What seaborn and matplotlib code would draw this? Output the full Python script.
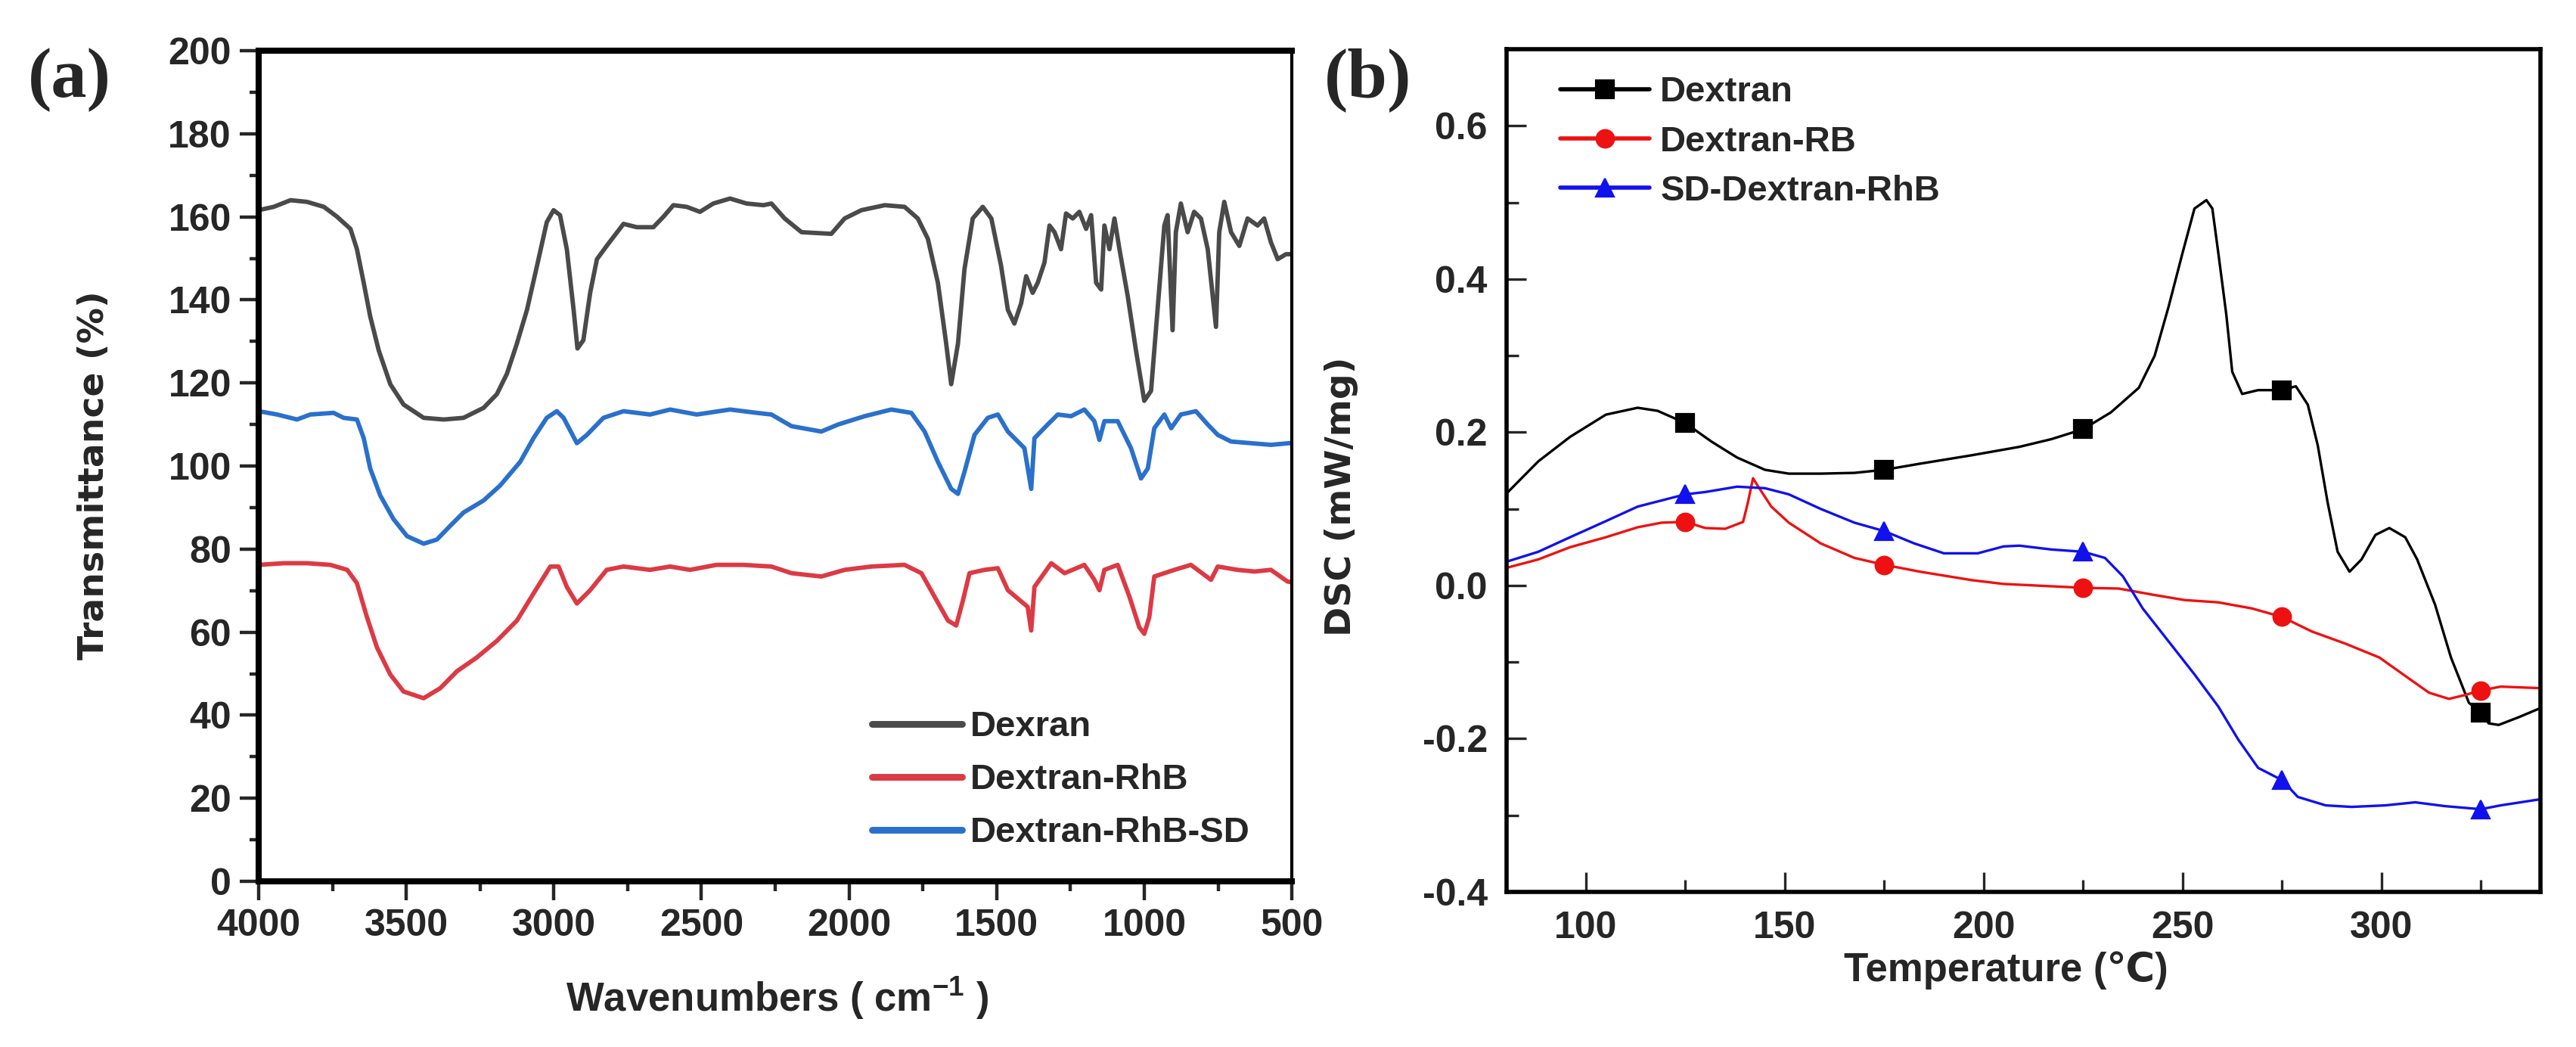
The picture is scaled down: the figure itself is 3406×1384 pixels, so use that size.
import matplotlib
matplotlib.use("Agg")
import matplotlib.pyplot as plt
import seaborn as sns
import pandas as pd
from matplotlib.ticker import MultipleLocator

# ---- panel (a): FTIR spectra ----
dexran_wn = [4000, 3949, 3892, 3836, 3779, 3734, 3689, 3667, 3644, 3622,
             3593, 3554, 3509, 3441, 3373, 3306, 3238, 3193, 3159, 3125,
             3091, 3057, 3024, 3001, 2979, 2956, 2933, 2920, 2900, 2877,
             2854, 2821, 2764, 2719, 2663, 2629, 2595, 2550, 2505, 2460,
             2403, 2347, 2290, 2263, 2218, 2161, 2060, 2015, 1958, 1879,
             1812, 1767, 1733, 1699, 1671, 1654, 1631, 1609, 1581, 1547,
             1518, 1485, 1462, 1440, 1417, 1400, 1378, 1361, 1338, 1321,
             1304, 1282, 1265, 1242, 1220, 1197, 1180, 1163, 1146, 1135,
             1118, 1101, 1084, 1056, 1028, 1000, 977, 955, 932, 921,
             904, 893, 876, 853, 831, 808, 785, 757, 746, 729,
             706, 678, 650, 616, 594, 571, 548, 520, 500]
dexran_t = [161.6, 162.4, 164.0, 163.6, 162.4, 160.0, 157.1, 152.2, 144.1, 136.0,
            127.8, 119.7, 114.8, 111.6, 111.2, 111.6, 114.0, 117.3, 122.2, 129.5,
            137.6, 148.2, 158.7, 161.6, 160.4, 152.2, 137.6, 128.3, 130.3, 141.7,
            149.8, 153.0, 158.3, 157.5, 157.5, 160.0, 162.8, 162.4, 161.2, 163.2,
            164.4, 163.2, 162.8, 163.2, 159.6, 156.3, 155.9, 159.6, 161.6, 162.8,
            162.4, 159.6, 154.7, 144.1, 129.5, 119.7, 129.5, 147.4, 159.6, 162.4,
            159.6, 148.2, 137.6, 134.3, 139.2, 145.7, 141.7, 144.1, 149.0, 157.9,
            156.3, 152.2, 160.8, 159.6, 161.2, 157.1, 160.4, 144.1, 142.5, 157.9,
            152.2, 159.6, 152.2, 140.9, 127.8, 115.7, 118.1, 137.6, 157.9, 160.4,
            132.7, 156.3, 163.2, 156.3, 161.2, 159.6, 152.2, 133.5, 156.3, 163.6,
            156.3, 153.0, 159.6, 157.9, 159.6, 153.9, 149.8, 151.0, 151.0]

rhb_wn = [4000, 3915, 3836, 3757, 3700, 3667, 3633, 3599, 3554, 3509,
          3441, 3385, 3328, 3261, 3193, 3125, 3069, 3012, 2984, 2956,
          2922, 2877, 2821, 2764, 2674, 2606, 2539, 2449, 2358, 2263,
          2195, 2094, 2015, 1925, 1812, 1755, 1710, 1665, 1637, 1614,
          1592, 1541, 1496, 1462, 1395, 1383, 1372, 1315, 1270, 1203,
          1169, 1152, 1135, 1090, 1050, 1017, 1000, 983, 966, 932,
          898, 842, 774, 751, 684, 627, 571, 515, 500]
rhb_t = [76.2, 76.6, 76.6, 76.2, 75.0, 71.8, 63.6, 56.3, 49.8, 45.7,
         44.1, 46.5, 50.6, 53.9, 57.9, 62.8, 69.3, 75.8, 75.8, 70.9,
         66.9, 70.1, 75.0, 75.8, 75.0, 75.8, 75.0, 76.2, 76.2, 75.8,
         74.2, 73.4, 75.0, 75.8, 76.2, 74.2, 68.5, 62.8, 61.6, 67.7,
         74.2, 75.0, 75.4, 70.1, 66.1, 60.4, 70.9, 76.6, 74.2, 76.2,
         72.6, 70.1, 75.0, 76.2, 68.5, 61.2, 59.6, 63.6, 73.4, 74.2,
         75.0, 76.2, 72.6, 75.8, 75.0, 74.6, 75.0, 72.2, 72.0]

sd_wn = [4000, 3937, 3870, 3825, 3746, 3712, 3667, 3644, 3622, 3588,
         3543, 3497, 3441, 3396, 3351, 3306, 3238, 3182, 3114, 3069,
         3024, 2990, 2967, 2922, 2888, 2832, 2764, 2674, 2606, 2516,
         2403, 2313, 2263, 2195, 2094, 2037, 1947, 1857, 1789, 1744,
         1699, 1654, 1631, 1609, 1575, 1530, 1496, 1462, 1406, 1383,
         1372, 1327, 1293, 1248, 1203, 1169, 1152, 1135, 1090, 1045,
         1011, 988, 966, 932, 909, 876, 825, 785, 751, 706,
         639, 571, 509, 500]
sd_t = [113.2, 112.4, 111.2, 112.4, 112.8, 111.6, 111.2, 106.7, 99.4, 92.9,
        87.2, 83.1, 81.3, 82.3, 85.6, 88.8, 91.7, 95.3, 101.0, 106.7,
        111.6, 113.2, 111.6, 105.5, 107.5, 111.6, 113.2, 112.4, 113.6, 112.4,
        113.6, 112.8, 112.4, 109.6, 108.3, 110.0, 112.0, 113.6, 112.8, 108.3,
        101.0, 94.5, 93.3, 98.6, 107.5, 111.6, 112.4, 108.3, 104.3, 94.5,
        106.7, 110.0, 112.4, 112.0, 113.6, 110.8, 106.3, 110.8, 110.8, 104.3,
        97.0, 99.4, 109.1, 112.4, 109.1, 112.4, 113.2, 110.0, 107.5, 105.9,
        105.5, 105.1, 105.5, 105.5]

# ---- panel (b): DSC curves ----
temp_dextran = [80, 88, 96, 105, 113, 118, 125, 131.5, 138, 145,
                151, 159, 167.5, 175, 184, 197, 209, 217, 225, 232,
                239, 243, 246.5, 250, 253, 256, 257.5, 259, 261, 262.5,
                265, 269, 275, 278.5, 281.5, 284, 286.5, 289, 292, 295,
                298.5, 302, 306, 309, 313.5, 317.5, 322, 325, 327, 329.5,
                334.5, 340]
dsc_dextran = [0.120, 0.162, 0.194, 0.223, 0.232, 0.228, 0.212, 0.188, 0.167, 0.151,
               0.146, 0.146, 0.147, 0.151, 0.159, 0.170, 0.181, 0.191, 0.204, 0.226,
               0.258, 0.300, 0.364, 0.434, 0.492, 0.503, 0.492, 0.434, 0.354, 0.279,
               0.250, 0.255, 0.255, 0.260, 0.236, 0.183, 0.108, 0.044, 0.018, 0.034,
               0.066, 0.075, 0.063, 0.034, -0.025, -0.094, -0.153, -0.166, -0.180, -0.182,
               -0.172, -0.160]

temp_rb = [80, 88, 96, 105, 113, 119, 125, 130, 135, 139.5,
           140.7, 142, 143.2, 146.6, 151, 159, 167.5, 175, 184, 197,
           205, 209, 217, 225, 234, 242.5, 250.5, 259, 267.5, 275,
           282.5, 291, 299.5, 306, 312, 317, 321, 325, 330, 340]
dsc_rb = [0.023, 0.034, 0.050, 0.063, 0.076, 0.082, 0.083, 0.075, 0.074, 0.083,
          0.108, 0.140, 0.130, 0.103, 0.082, 0.055, 0.036, 0.027, 0.018, 0.007,
          0.002, 0.001, -0.001, -0.003, -0.004, -0.012, -0.019, -0.022, -0.030, -0.041,
          -0.060, -0.076, -0.094, -0.118, -0.140, -0.148, -0.143, -0.137, -0.132, -0.134]

temp_sd = [80, 88, 96, 105, 113, 125, 130, 138, 145, 151,
           159, 167.5, 175, 182.5, 190, 198.5, 205, 209, 217, 225,
           230.5, 235, 240, 246.5, 253, 259, 264, 269, 275, 279,
           286, 292.5, 301, 308.5, 316, 325, 330, 340]
dsc_sd = [0.031, 0.044, 0.063, 0.084, 0.103, 0.119, 0.122, 0.129, 0.127, 0.119,
          0.100, 0.082, 0.071, 0.055, 0.042, 0.042, 0.051, 0.052, 0.047, 0.044,
          0.036, 0.012, -0.030, -0.073, -0.116, -0.158, -0.201, -0.238, -0.254, -0.276,
          -0.287, -0.289, -0.287, -0.283, -0.288, -0.292, -0.287, -0.279]

# temperatures where the symbols sit
marker_temps = [125, 175, 225, 275, 325]

# ---- style ----
sns.set_theme(style="ticks")
plt.rcParams["font.family"] = ["Liberation Sans", "DejaVu Sans"]
plt.rcParams["font.weight"] = "bold"
plt.rcParams["axes.unicode_minus"] = False
plt.rcParams["mathtext.default"] = "regular"

fig = plt.figure(figsize=(17.03, 6.92), dpi=200)
ax1 = fig.add_axes([0.1004, 0.1582, 0.4011, 0.7934])
ax2 = fig.add_axes([0.5848, 0.1481, 0.4014, 0.8049])

# ---- (a) ----
ftir = [("Dexran", dexran_wn, dexran_t, "#4a4a4a"),
        ("Dextran-RhB", rhb_wn, rhb_t, "#dc3a44"),
        ("Dextran-RhB-SD", sd_wn, sd_t, "#2a70cc")]
for name, wn, t, col in ftir:
    d = pd.DataFrame({"wn": wn, "t": t})
    sns.lineplot(data=d, x="wn", y="t", ax=ax1, color=col, lw=2.1,
                 estimator=None, sort=False, label=name)

ax1.set_xlim(4000, 500)
ax1.set_ylim(0, 200)
ax1.xaxis.set_major_locator(MultipleLocator(500))
ax1.xaxis.set_minor_locator(MultipleLocator(250))
ax1.yaxis.set_major_locator(MultipleLocator(20))
ax1.yaxis.set_minor_locator(MultipleLocator(10))
ax1.tick_params(which="major", direction="out", length=9, width=1.6,
                labelsize=18, pad=4, top=False, right=False)
ax1.tick_params(which="minor", direction="out", length=4.5, width=1.6,
                top=False, right=False)
for s in ["left", "bottom", "top"]:
    ax1.spines[s].set_linewidth(2.9)
ax1.spines["right"].set_linewidth(1.5)
for s in ax1.spines.values():
    s.set_color("black")

ax1.set_xlabel("Wavenumbers ( cm$^{-1}$ )", fontsize=19, fontweight="bold")
ax1.xaxis.set_label_coords(0.502, -0.113)
ax1.set_ylabel("Transmittance (%)", fontsize=17, fontweight="bold",
               family="DejaVu Sans")
ax1.yaxis.set_label_coords(-0.143, 0.489)

leg1 = ax1.legend(loc="center left", bbox_to_anchor=(0.594, 0.122),
                  frameon=False, fontsize=17, handlelength=2.5,
                  handletextpad=0.25, labelspacing=0.55, borderpad=0,
                  borderaxespad=0)
for h in leg1.get_lines():
    h.set_linewidth(3.2)

# ---- (b) ----
dsc = [("Dextran", temp_dextran, dsc_dextran, "#000000", "s"),
       ("Dextran-RB", temp_rb, dsc_rb, "#ee1111", "o"),
       ("SD-Dextran-RhB", temp_sd, dsc_sd, "#1111ee", "^")]
for name, tt, v, col, mk in dsc:
    d = pd.DataFrame({"temp": tt, "dsc": v})
    idx = [i for i, x in enumerate(tt) if x in marker_temps]
    sns.lineplot(data=d, x="temp", y="dsc", ax=ax2, color=col, lw=1.2,
                 estimator=None, sort=False, label=name, marker=mk,
                 markevery=idx, markersize=8.5, markeredgecolor=col,
                 markerfacecolor=col, markeredgewidth=0.8)

ax2.set_xlim(80, 340)
ax2.set_ylim(-0.4, 0.7)
ax2.set_xticks([100, 150, 200, 250, 300])
ax2.xaxis.set_minor_locator(MultipleLocator(25))
ax2.set_yticks([-0.4, -0.2, 0.0, 0.2, 0.4, 0.6])
ax2.set_yticklabels(["-0.4", "-0.2", "0.0", "0.2", "0.4", "0.6"])
ax2.yaxis.set_minor_locator(MultipleLocator(0.1))
ax2.tick_params(which="major", direction="in", length=9.4, width=1.2,
                labelsize=18, pad=9, top=False, right=False)
ax2.tick_params(which="minor", direction="in", length=5.8, width=1.2,
                top=False, right=False)
for s in ax2.spines.values():
    s.set_linewidth(2.0)
    s.set_color("black")

ax2.set_xlabel("Temperature (\u2103)", fontsize=19, fontweight="bold")
ax2.xaxis.set_label_coords(0.483, -0.070)
ax2.set_ylabel("DSC (mW/mg)", fontsize=17, fontweight="bold",
               family="DejaVu Sans")
ax2.yaxis.set_label_coords(-0.143, 0.469)

leg2 = ax2.legend(loc="center left", bbox_to_anchor=(0.052, 0.890),
                  frameon=False, fontsize=17, handlelength=2.5,
                  handletextpad=0.3, labelspacing=0.45, borderpad=0,
                  borderaxespad=0, numpoints=1)
for h in leg2.get_lines():
    h.set_linewidth(2.0)

# panel letters
fig.text(0.027, 0.924, "(a)", family="Liberation Serif", weight="bold",
         size=34, ha="center", va="center")
fig.text(0.531, 0.924, "(b)", family="Liberation Serif", weight="bold",
         size=34, ha="center", va="center")

fig.savefig("out.png", dpi=200)
